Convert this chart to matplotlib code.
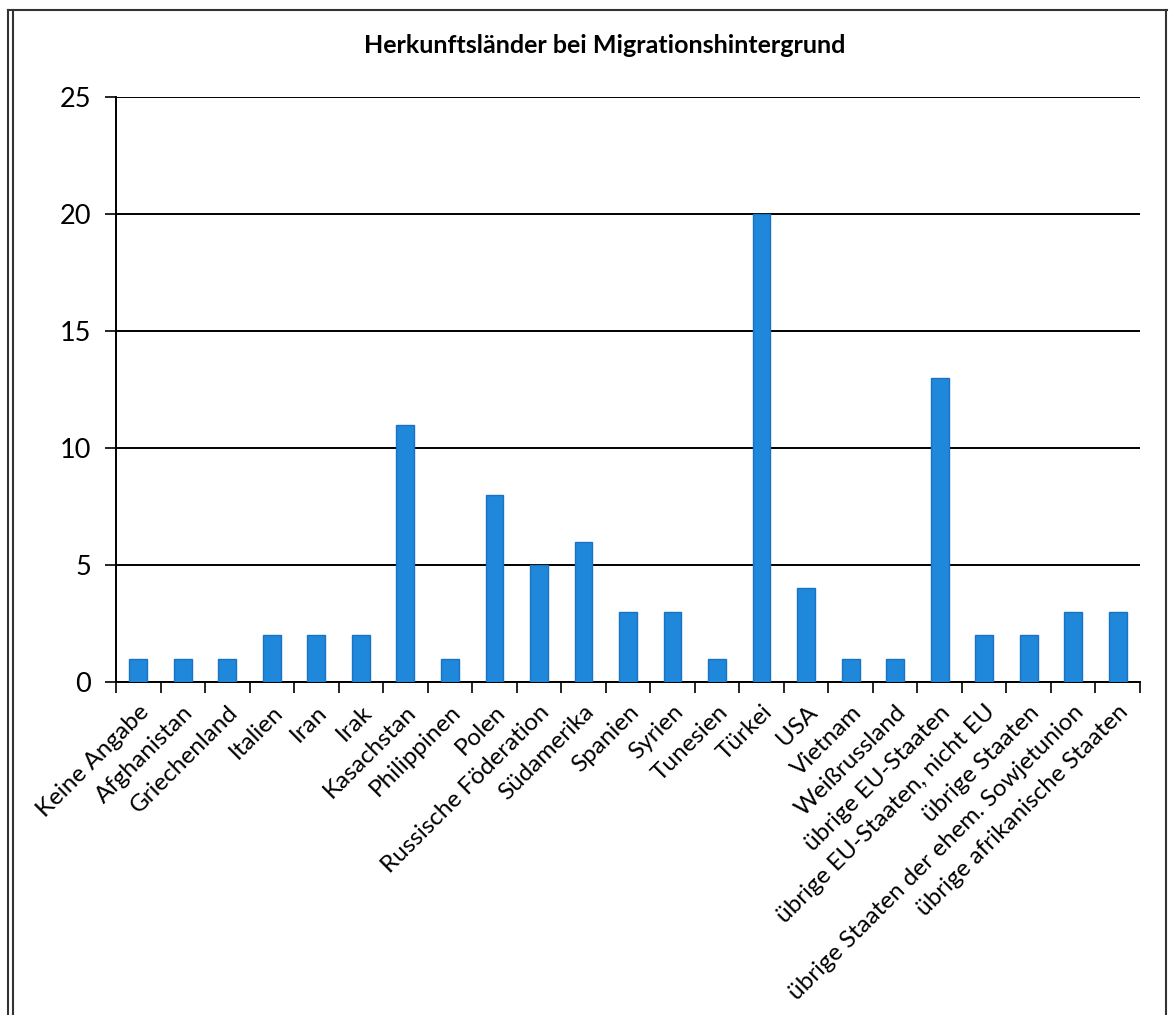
import numpy as np
import matplotlib.pyplot as plt
from matplotlib.lines import Line2D

# data
laender = [
    "Keine Angabe", "Afghanistan", "Griechenland", "Italien", "Iran", "Irak",
    "Kasachstan", "Philippinen", "Polen", "Russische Föderation", "Südamerika",
    "Spanien", "Syrien", "Tunesien", "Türkei", "USA", "Vietnam", "Weißrussland",
    "übrige EU-Staaten", "übrige EU-Staaten, nicht EU", "übrige Staaten",
    "übrige Staaten der ehem. Sowjetunion", "übrige afrikanische Staaten",
]
anzahl = [1, 1, 1, 2, 2, 2, 11, 1, 8, 5, 6, 3, 3, 1, 20, 4, 1, 1, 13, 2, 2, 3, 3]
y_ticks = [0, 5, 10, 15, 20, 25]

plt.rcParams['font.family'] = ['Lato', 'DejaVu Sans']

fig = plt.figure(figsize=(11.7, 10.15), dpi=100)
ax = fig.add_axes([116/1170, 1 - 682/1015, 1024/1170, 585/1015])

x = np.arange(len(laender))
ax.bar(x, anzahl, width=0.4, color='#1f88da', edgecolor='#1a72c4', linewidth=1, zorder=3)

ax.set_xlim(-0.5, len(laender) - 0.5)
ax.set_ylim(0, 25)
ax.set_yticks(y_ticks)
ax.tick_params(axis='y', labelsize=19.5, length=8, width=1.2, pad=10)
ax.yaxis.grid(True, color='black', linewidth=1.4, zorder=0)

# category ticks sit between the bars
ax.set_xticks(np.arange(len(laender) + 1) - 0.5, minor=False)
ax.set_xticklabels([])
ax.tick_params(axis='x', which='major', length=8, width=1.2, direction='out')
ax.set_xticks(x, minor=True)
ax.set_xticklabels(laender, minor=True, rotation=45, ha='right',
                   rotation_mode='anchor', fontsize=17.5)
ax.tick_params(axis='x', which='minor', length=0, pad=14)

for s in ['top', 'right']:
    ax.spines[s].set_visible(False)
ax.spines['left'].set_linewidth(1.4)
ax.spines['bottom'].set_linewidth(1.4)

fig.text(605/1170, 1 - 45/1015, "Herkunftsländer bei Migrationshintergrund",
         ha='center', va='center', fontsize=18, fontweight='bold')

# scanned frame around the chart
for xx in [8/1170, 13/1170]:
    fig.add_artist(Line2D([xx, xx], [0, 1 - 10/1015], color='#333333', lw=1.5))
fig.add_artist(Line2D([8/1170, 1167/1170], [1 - 10/1015, 1 - 10/1015], color='#333333', lw=1.5))
fig.add_artist(Line2D([1166/1170, 1166/1170], [0, 1 - 10/1015], color='#333333', lw=1.5))

fig.savefig("out.png", dpi=100)
